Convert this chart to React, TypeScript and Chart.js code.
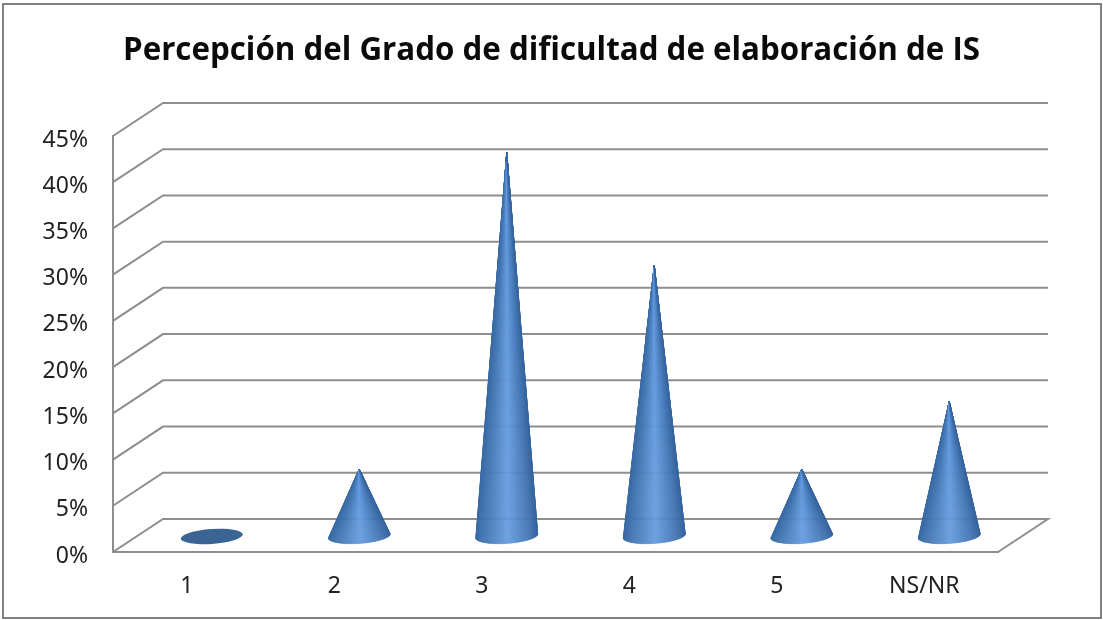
import React, { useEffect, useRef } from "react";
import { Chart, registerables } from "chart.js";

Chart.register(...registerables);

const categories = ["1", "2", "3", "4", "5", "NS/NR"];
const percentValues = [0, 7.3, 41.5, 29.3, 7.3, 14.6];
const chartTitle = "Percepción del Grado de dificultad de elaboración de IS";

const WALL_DX = 50;
const WALL_DY = -33;
const CONE_DX = 25;
const CONE_DY = -15.5;
const CONE_RX = 31;
const CONE_RY = 7.5;
const CONE_TILT = (-4 * Math.PI) / 180;
const LINE = "#8e8e8e";

const shadeStops: [number, number[]][] = [
  [0, [58, 106, 163]],
  [0.2, [70, 122, 182]],
  [0.52, [102, 156, 224]],
  [0.75, [78, 130, 194]],
  [1, [56, 102, 158]],
];

function shade(u: number) {
  for (let i = 1; i < shadeStops.length; i++) {
    const [a, ca] = shadeStops[i - 1];
    const [b, cb] = shadeStops[i];
    if (u <= b) {
      const f = (u - a) / (b - a);
      const c = ca.map((v, k) => Math.round(v + (cb[k] - v) * f));
      return `rgb(${c[0]},${c[1]},${c[2]})`;
    }
  }
  return "rgb(56,102,158)";
}

const framePlugin = {
  id: "frame",
  beforeDraw(chart: any) {
    const { ctx, width, height } = chart;
    ctx.save();
    ctx.fillStyle = "#ffffff";
    ctx.fillRect(0, 0, width, height);
    ctx.strokeStyle = "#808080";
    ctx.lineWidth = 2;
    ctx.strokeRect(3, 4, width - 5, height - 6);
    ctx.restore();
  },
};

const wallPlugin = {
  id: "wall",
  beforeDatasetsDraw(chart: any) {
    const { ctx, chartArea, scales } = chart;
    const { left, right } = chartArea;
    ctx.save();
    ctx.strokeStyle = LINE;
    ctx.lineWidth = 2;
    scales.y.ticks.forEach((t: any) => {
      const y = scales.y.getPixelForValue(t.value);
      ctx.beginPath();
      ctx.moveTo(left, y);
      ctx.lineTo(left + WALL_DX, y + WALL_DY);
      ctx.lineTo(right + WALL_DX, y + WALL_DY);
      if (t.value === 0) ctx.lineTo(right, y);
      ctx.stroke();
    });
    ctx.restore();
  },
};

const conePlugin = {
  id: "cones",
  afterDatasetsDraw(chart: any) {
    const { ctx } = chart;
    const meta = chart.getDatasetMeta(0);
    const point = (cx: number, cy: number, t: number) => {
      const ex = CONE_RX * Math.cos(t);
      const ey = CONE_RY * Math.sin(t);
      return [
        cx + ex * Math.cos(CONE_TILT) - ey * Math.sin(CONE_TILT),
        cy + ex * Math.sin(CONE_TILT) + ey * Math.cos(CONE_TILT),
      ];
    };
    ctx.save();
    meta.data.forEach((bar: any, i: number) => {
      const cx = bar.x + CONE_DX;
      const cy = bar.base + CONE_DY;
      const ay = bar.y + CONE_DY;
      if (percentValues[i] === 0) {
        ctx.fillStyle = "#3a6494";
        ctx.beginPath();
        ctx.ellipse(cx, cy, CONE_RX, CONE_RY, CONE_TILT, 0, Math.PI * 2);
        ctx.fill();
        return;
      }
      const n = 120;
      for (let k = 0; k < n; k++) {
        const t0 = Math.PI - (Math.PI * k) / n;
        const t1 = Math.PI - (Math.PI * (k + 1)) / n;
        const p0 = point(cx, cy, t0);
        const p1 = point(cx, cy, t1);
        const c = shade(((p0[0] + p1[0]) / 2 - (cx - CONE_RX)) / (2 * CONE_RX));
        ctx.fillStyle = c;
        ctx.strokeStyle = c;
        ctx.lineWidth = 0.4;
        ctx.beginPath();
        ctx.moveTo(cx, ay);
        ctx.lineTo(p0[0], p0[1]);
        ctx.lineTo(p1[0], p1[1]);
        ctx.closePath();
        ctx.fill();
        ctx.stroke();
      }
    });
    ctx.restore();
  },
};

export default function App() {
  const ref = useRef<HTMLCanvasElement | null>(null);
  useEffect(() => {
    document.body.style.margin = "0";
    const chart = new Chart(ref.current as HTMLCanvasElement, {
      type: "bar",
      data: {
        labels: categories,
        datasets: [{ data: percentValues, backgroundColor: "rgba(0,0,0,0)", borderWidth: 0 }],
      },
      plugins: [framePlugin, wallPlugin, conePlugin],
      options: {
        responsive: false,
        animation: false,
        plugins: {
          legend: { display: false },
          tooltip: { enabled: false },
          title: {
            display: true,
            text: chartTitle,
            color: "#0a0a0a",
            align: "center",
            font: { family: "'Open Sans'", size: 31.3, weight: "bold", lineHeight: 1.2 },
            padding: { top: 32, bottom: 66.4 },
          },
        },
        scales: {
          x: {
            grid: { display: true, drawOnChartArea: false, drawTicks: false },
            border: { display: true, color: LINE, width: 2 },
            ticks: { color: "#222222", font: { family: "'Noto Sans'", size: 23 }, padding: 20.5 },
            afterFit(s: any) { s.height = 68; },
          },
          y: {
            min: 0,
            max: 45,
            grid: { display: true, drawOnChartArea: false, drawTicks: false },
            border: { display: true, color: LINE, width: 2 },
            ticks: {
              stepSize: 5,
              color: "#222222",
              font: { family: "'Noto Sans'", size: 23 },
              padding: 25,
              labelOffset: 4,
              callback: (v: any) => `${v}%`,
            },
            afterFit(s: any) { s.width = 113; },
          },
          gutter: {
            position: "right",
            grid: { display: false },
            border: { display: false },
            ticks: { display: false },
            afterFit(s: any) { s.width = 105; },
          },
        },
      } as any,
    });
    return () => chart.destroy();
  }, []);
  return <canvas ref={ref} width={1103} height={620} style={{ display: "block" }} />;
}
